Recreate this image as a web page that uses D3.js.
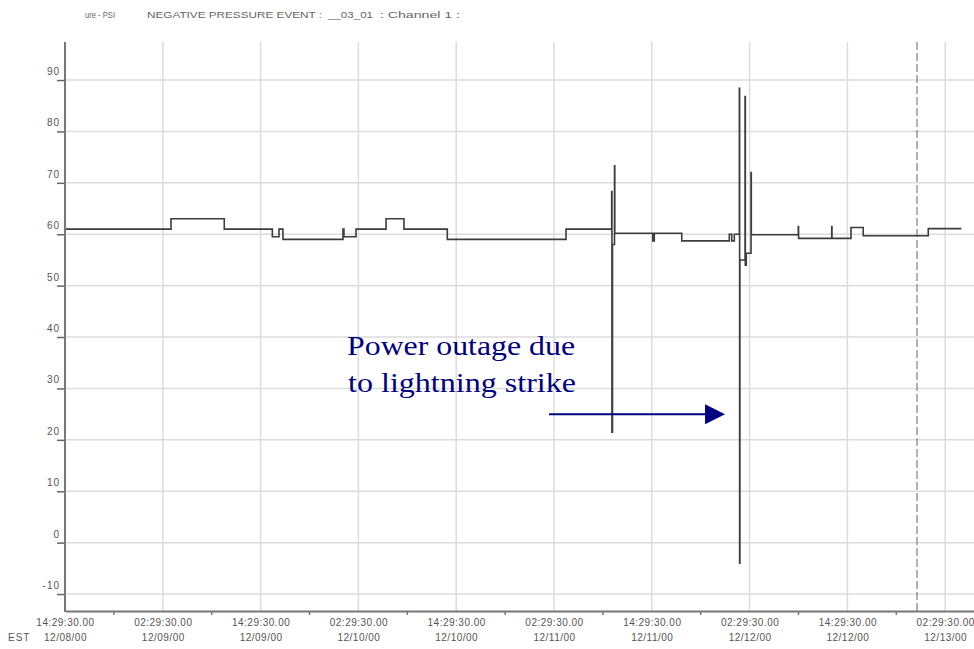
<html>
<head>
<meta charset="utf-8">
<script src="https://d3js.org/d3.v7.min.js"></script>
<style>
  body { margin: 0; background: #fff; }
  text { font-family: "Liberation Sans", Arial, sans-serif; }
</style>
</head>
<body>
<div id="chart"></div>
<script>
// pressure readings (PSI), step series
const times = [
  "12/08/00 14:29:30", "12/09/00 03:30:00", "12/09/00 10:02:00", "12/09/00 15:56:00",
  "12/09/00 16:45:00", "12/09/00 17:14:00", "12/10/00 00:36:00", "12/10/00 00:43:00",
  "12/10/00 02:12:00", "12/10/00 05:53:00", "12/10/00 08:05:00", "12/10/00 13:24:00",
  "12/11/00 03:58:00", "12/11/00 09:34:00", "12/11/00 09:36:00", "12/11/00 09:40:00",
  "12/11/00 09:55:00", "12/11/00 09:57:00", "12/11/00 14:36:00", "12/11/00 14:48:00",
  "12/11/00 18:10:00", "12/12/00 00:00:00", "12/12/00 00:18:00", "12/12/00 00:37:00",
  "12/12/00 01:14:00", "12/12/00 01:16:00", "12/12/00 01:18:00", "12/12/00 01:56:00",
  "12/12/00 01:58:00", "12/12/00 02:05:00", "12/12/00 02:40:00", "12/12/00 02:42:00",
  "12/12/00 08:28:00", "12/12/00 08:30:00", "12/12/00 12:34:00", "12/12/00 12:36:00",
  "12/12/00 14:56:00", "12/12/00 16:26:00", "12/13/00 00:25:00", "12/13/00 04:29:00"
];
const psi = [
  61, 63, 61, 59.5,
  61, 59, 61, 59.5,
  61, 63, 61, 59,
  61, 68.3, 21.5, 58,
  73.3, 60.2, 58.7, 60.2,
  58.7, 60, 58.7, 60,
  88.4, -4.0, 55, 86.8,
  54, 56.3, 72, 59.9,
  61.5, 59.2, 61.5, 59.2,
  61.3, 59.7, 61.1, 61.1
];

const xStart = "12/08/00 14:29:30";
const xEnd = "12/13/00 06:01:30";
const yTicks = [-10, 0, 10, 20, 30, 40, 50, 60, 70, 80, 90];
const cursorTime = "12/12/00 23:02:00";
const titleParts = ["ure - PSI", "NEGATIVE PRESSURE EVENT :", "__03_01", ": Channel 1 :"];
const noteLines = ["Power outage due", "to lightning strike"];
const arrowFrom = { t: "12/11/00 01:53:00", v: 25 };
const arrowTo = { t: "12/11/00 23:29:00", v: 25 };

const parse = d3.timeParse("%m/%d/%y %H:%M:%S");
const data = times.map((t, i) => ({ time: parse(t), value: psi[i] }));

const width = 974, height = 649;
const plot = { left: 65, right: 974, top: 42, bottom: 611 };

const svg = d3.select("#chart").append("svg")
  .attr("width", width).attr("height", height);

const x = d3.scaleTime()
  .domain([parse(xStart), parse(xEnd)])
  .range([plot.left, plot.right]);
const y = d3.scaleLinear()
  .domain([-13.3, 97.4])
  .range([plot.bottom, plot.top]);

// 12 hour major ticks, 6 hour minor ticks
const majors = d3.range(0, 10).map(k => d3.timeHour.offset(parse(xStart), 12 * k));
const minors = d3.range(0, 9).map(k => d3.timeHour.offset(parse(xStart), 12 * k + 6));

// grid
svg.append("g").selectAll("line.h").data(yTicks).join("line")
  .attr("x1", plot.left).attr("x2", plot.right)
  .attr("y1", d => y(d)).attr("y2", d => y(d))
  .attr("stroke", "#dcdcdc").attr("stroke-width", 1.5);
svg.append("g").selectAll("line.v").data(majors.slice(1)).join("line")
  .attr("x1", d => x(d)).attr("x2", d => x(d))
  .attr("y1", plot.top).attr("y2", plot.bottom)
  .attr("stroke", "#dcdcdc").attr("stroke-width", 1.5);

// dashed cursor
svg.append("line")
  .attr("x1", x(parse(cursorTime))).attr("x2", x(parse(cursorTime)))
  .attr("y1", plot.top).attr("y2", plot.bottom)
  .attr("stroke", "#888").attr("stroke-width", 1.3)
  .attr("stroke-dasharray", "8,3");

// series
svg.append("path")
  .datum(data)
  .attr("fill", "none")
  .attr("stroke", "#3c3c3c")
  .attr("stroke-width", 1.6)
  .attr("d", d3.line()
    .curve(d3.curveStepAfter)
    .x(d => x(d.time))
    .y(d => y(d.value)));

// y axis
const yAxis = svg.append("g")
  .attr("transform", `translate(${plot.left},0)`)
  .call(d3.axisLeft(y).tickValues(yTicks).tickSize(8).tickFormat(d => String(d)));
yAxis.select(".domain").remove();
yAxis.selectAll(".tick line").attr("stroke", "#666").attr("stroke-width", 1.5);
yAxis.selectAll(".tick text")
  .attr("x", -5).attr("dy", "-0.55em")
  .attr("fill", "#555").style("font-size", "10px").style("letter-spacing", "1px");
svg.append("line")
  .attr("x1", plot.left).attr("x2", plot.left)
  .attr("y1", plot.top).attr("y2", plot.bottom + 1)
  .attr("stroke", "#777").attr("stroke-width", 2);

// x axis
const fmtTime = d3.timeFormat("%H:%M:%S.00");
const fmtDate = d3.timeFormat("%m/%d/%y");
const xAxis = svg.append("g")
  .attr("transform", `translate(0,${plot.bottom})`)
  .call(d3.axisBottom(x).tickValues(majors).tickSize(0).tickPadding(0).tickFormat(""));
xAxis.select(".domain").attr("stroke", "#777").attr("stroke-width", 2);
xAxis.selectAll(".tick text").each(function(d) {
  const t = d3.select(this).text(null)
    .attr("fill", "#555").style("font-size", "10px").style("letter-spacing", "0.5px")
    .attr("y", 0).attr("dy", null);
  t.append("tspan").attr("x", 0).attr("y", 15).text(fmtTime(d));
  t.append("tspan").attr("x", 0).attr("y", 30).text(fmtDate(d));
});
svg.append("g").selectAll("line").data(minors).join("line")
  .attr("x1", d => x(d)).attr("x2", d => x(d))
  .attr("y1", plot.bottom).attr("y2", plot.bottom + 4)
  .attr("stroke", "#777").attr("stroke-width", 1.5);
svg.append("text")
  .attr("x", 8).attr("y", plot.bottom + 30)
  .attr("fill", "#555").style("font-size", "10px").style("letter-spacing", "1px")
  .text("EST");

// title
const titleX = [85, 147, 328, 380];
const titleW = [30, 175, 45, 80];
svg.append("g").selectAll("text").data(titleParts).join("text")
  .attr("x", (d, i) => titleX[i]).attr("y", 18)
  .attr("textLength", (d, i) => titleW[i]).attr("lengthAdjust", "spacingAndGlyphs")
  .attr("fill", "#666").style("font-size", "9px")
  .text(d => d);

// annotation
svg.append("g").selectAll("text").data(noteLines).join("text")
  .attr("x", (d, i) => x(parse(arrowFrom.t)) - 202 + i)
  .attr("y", (d, i) => y(36.5 - i * 7.2))
  .attr("textLength", 228).attr("lengthAdjust", "spacingAndGlyphs")
  .attr("fill", "#000080")
  .style("font-family", "'Liberation Serif', 'Times New Roman', serif")
  .style("font-size", "27px")
  .text(d => d);

const ax0 = x(parse(arrowFrom.t)), ax1 = x(parse(arrowTo.t)), ay = y(arrowFrom.v);
svg.append("line")
  .attr("x1", ax0).attr("x2", ax1 - 18).attr("y1", ay).attr("y2", ay)
  .attr("stroke", "#000080").attr("stroke-width", 2);
svg.append("path")
  .attr("d", `M${ax1 - 20},${ay - 10}L${ax1},${ay}L${ax1 - 20},${ay + 10}Z`)
  .attr("fill", "#000080");
</script>
</body>
</html>
